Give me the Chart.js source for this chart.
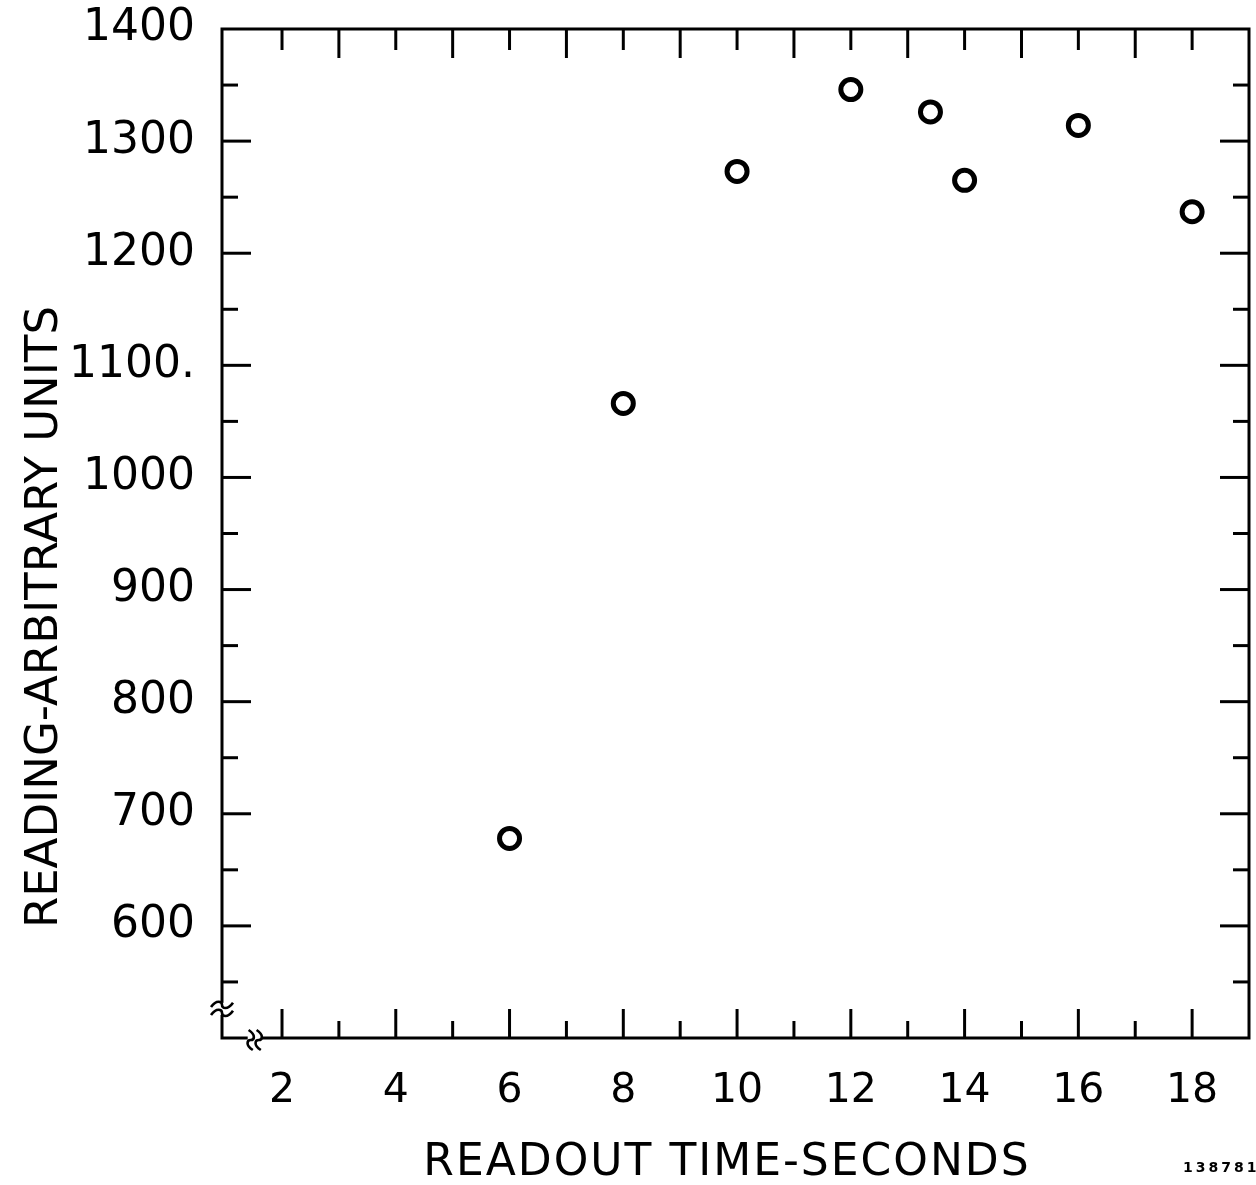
<!DOCTYPE html>
<html>
<head>
<meta charset="utf-8">
<script src="https://cdn.jsdelivr.net/npm/chart.js@4.4.0/dist/chart.umd.min.js"></script>
<style>
  html, body { margin: 0; padding: 0; background: #fff; }
  #wrap { position: relative; width: 1256px; height: 1185px; }
  #plate {
    position: absolute; left: 1183px; top: 1159px;
    font: bold 14px "DejaVu Sans", sans-serif; letter-spacing: 3px; color: #000;
  }
</style>
</head>
<body>
<div id="wrap">
  <canvas id="chart" width="1256" height="1185"></canvas>
  <div id="plate">138781</div>
</div>
<script>
/* ── Readout time vs reading ─────────────────────── */

const readoutTimes = [6, 8, 10, 12, 13.4, 14, 16, 18];
const readings = [678, 1066, 1273, 1346, 1326, 1265, 1314, 1237];

const xTickValues = [2, 3, 4, 5, 6, 7, 8, 9, 10, 11, 12, 13, 14, 15, 16, 17, 18];
const xLabelValues = [2, 4, 6, 8, 10, 12, 14, 16, 18];
const xLabelTexts = ["2", "4", "6", "8", "10", "12", "14", "16", "18"];

const yTickValues = [
  500, 550, 600, 650, 700, 750, 800, 850, 900, 950,
  1000, 1050, 1100, 1150, 1200, 1250, 1300, 1350, 1400,
];
const yLabelValues = [600, 700, 800, 900, 1000, 1100, 1200, 1300, 1400];
const yLabelTexts = ["600", "700", "800", "900", "1000", "1100.", "1200", "1300", "1400"];

const xTitle = "READOUT TIME-SECONDS";
const yTitle = "READING-ARBITRARY UNITS";

const X_MIN = 0.945;
const X_MAX = 19.0;
const Y_MIN = 500;
const Y_MAX = 1400;

Chart.defaults.font.family = "'DejaVu Sans', sans-serif";
Chart.defaults.color = "#000";

function line(ctx, x1, y1, x2, y2) {
  ctx.beginPath();
  ctx.moveTo(x1, y1);
  ctx.lineTo(x2, y2);
  ctx.stroke();
}

// one small "~" wave, centred on (0, dy), in local coordinates
function tilde(ctx, dy, w, amp) {
  ctx.beginPath();
  ctx.moveTo(-w / 2, dy + amp * 0.6);
  ctx.bezierCurveTo(-w / 4, dy - amp * 1.6, 0, dy - amp, 0, dy);
  ctx.bezierCurveTo(0, dy + amp, w / 4, dy + amp * 1.6, w / 2, dy - amp * 0.6);
  ctx.stroke();
}

// frame, inward ticks on all four sides, axis breaks and axis titles
const framePlugin = {
  id: "frame",
  afterDraw(chart) {
    const { ctx, chartArea: a } = chart;
    const xs = chart.scales.x;
    const ys = chart.scales.y;
    ctx.save();
    ctx.strokeStyle = "#000";
    ctx.lineWidth = 3;
    ctx.strokeRect(a.left, a.top, a.right - a.left, a.bottom - a.top);

    xTickValues.forEach((v) => {
      const px = xs.getPixelForValue(v);
      const even = v % 2 === 0;
      line(ctx, px, a.bottom, px, a.bottom - (even ? 29 : 17));
      line(ctx, px, a.top, px, a.top + (even ? 21 : 29));
    });
    yTickValues.forEach((v) => {
      if (v === Y_MIN || v === Y_MAX) return;
      const py = ys.getPixelForValue(v);
      const len = v % 100 === 0 ? 29 : 16;
      line(ctx, a.left, py, a.left + len, py);
      line(ctx, a.right, py, a.right - len, py);
    });

    // breaks
    const by = ys.getPixelForValue(526);
    const bx = xs.getPixelForValue(1.52);
    ctx.fillStyle = "#fff";
    ctx.fillRect(a.left - 3, by - 6, 6, 12);
    ctx.fillRect(bx - 7, a.bottom - 3, 14, 6);
    ctx.lineWidth = 2.6;
    ctx.save();
    ctx.translate(a.left, by);
    tilde(ctx, -4, 22, 3.5);
    tilde(ctx, 4, 22, 3.5);
    ctx.restore();
    ctx.save();
    ctx.translate(bx, a.bottom + 2);
    ctx.rotate(Math.PI / 2);
    tilde(ctx, -4, 20, 3.5);
    tilde(ctx, 4, 20, 3.5);
    ctx.restore();

    // axis titles
    ctx.fillStyle = "#000";
    ctx.textAlign = "center";
    ctx.textBaseline = "alphabetic";
    ctx.font = "44px 'DejaVu Sans'";
    ctx.letterSpacing = "2px";
    ctx.fillText(xTitle, 727, 1175);
    ctx.translate(57, 617);
    ctx.rotate(-Math.PI / 2);
    ctx.font = "45px 'DejaVu Sans'";
    ctx.letterSpacing = "0px";
    ctx.fillText(yTitle, 0, 0);
    ctx.restore();
  },
};

new Chart(document.getElementById("chart"), {
  type: "scatter",
  data: {
    datasets: [
      {
        data: readoutTimes.map((t, i) => ({ x: t, y: readings[i] })),
        pointStyle: "circle",
        pointRadius: 10,
        pointHoverRadius: 10,
        pointBorderWidth: 5,
        pointBackgroundColor: "rgba(0,0,0,0)",
        pointBorderColor: "#000",
      },
    ],
  },
  options: {
    responsive: false,
    animation: false,
    events: [],
    layout: { autoPadding: false, padding: { top: 29, right: 7, left: 0, bottom: 0 } },
    plugins: { legend: { display: false }, tooltip: { enabled: false } },
    scales: {
      x: {
        type: "linear",
        position: "bottom",
        min: X_MIN,
        max: X_MAX,
        afterFit: (s) => {
          s.height = 147;
          s.paddingLeft = 0;
          s.paddingRight = 0;
        },
        afterBuildTicks: (s) => { s.ticks = xTickValues.map((v) => ({ value: v })); },
        grid: { display: false, drawTicks: false },
        border: { display: false },
        ticks: {
          autoSkip: false,
          maxRotation: 0,
          padding: 29,
          font: { size: 41 },
          callback: (v) => {
            const i = xLabelValues.indexOf(v);
            return i < 0 ? "" : xLabelTexts[i];
          },
        },
      },
      y: {
        type: "linear",
        position: "left",
        min: Y_MIN,
        max: Y_MAX,
        afterFit: (s) => {
          s.width = 222;
          s.paddingTop = 0;
          s.paddingBottom = 0;
        },
        afterBuildTicks: (s) => { s.ticks = yTickValues.map((v) => ({ value: v })); },
        grid: { display: false, drawTicks: false },
        border: { display: false },
        ticks: {
          autoSkip: false,
          padding: 27,
          font: { size: 44 },
          callback: (v) => {
            const i = yLabelValues.indexOf(v);
            return i < 0 ? "" : yLabelTexts[i];
          },
        },
      },
    },
  },
  plugins: [framePlugin],
});
</script>
</body>
</html>
